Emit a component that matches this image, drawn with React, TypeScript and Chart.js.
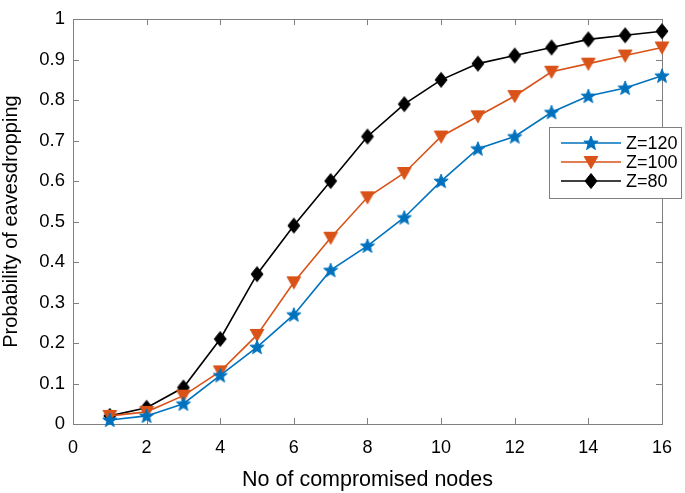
import React, { useEffect, useRef } from 'react';
import { Chart, registerables } from 'chart.js';

Chart.register(...registerables);

const nodes = [1, 2, 3, 4, 5, 6, 7, 8, 9, 10, 11, 12, 13, 14, 15, 16];
const z120 = [0.01, 0.02, 0.05, 0.12, 0.19, 0.27, 0.38, 0.44, 0.51, 0.6, 0.68, 0.71, 0.77, 0.81, 0.83, 0.86];
const z100 = [0.02, 0.03, 0.07, 0.13, 0.22, 0.35, 0.46, 0.56, 0.62, 0.71, 0.76, 0.81, 0.87, 0.89, 0.91, 0.93];
const z80 = [0.02, 0.04, 0.09, 0.21, 0.37, 0.49, 0.6, 0.71, 0.79, 0.85, 0.89, 0.91, 0.93, 0.95, 0.96, 0.97];
const seriesLabels = ['Z=120', 'Z=100', 'Z=80'];
const xTicks = [0, 2, 4, 6, 8, 10, 12, 14, 16];
const yTicks = [0, 0.1, 0.2, 0.3, 0.4, 0.5, 0.6, 0.7, 0.8, 0.9, 1];
const xTitle = 'No of compromised nodes';
const yTitle = 'Probability of eavesdropping';

const BLUE = '#0072BD';
const ORANGE = '#D95319';
const BLACK = '#000000';
const FRAME = '#808080';
const FONT = "'Liberation Sans', Arial, Helvetica, sans-serif";

function makeMarker(kind: 'star' | 'tri' | 'diamond', color: string): HTMLCanvasElement {
  const c = document.createElement('canvas');
  c.width = 18;
  c.height = 18;
  const g = c.getContext('2d')!;
  g.translate(9, 9);
  g.fillStyle = color;
  g.strokeStyle = color;
  g.lineWidth = 1;
  g.beginPath();
  if (kind === 'star') {
    const R = 7.5;
    const r = R * 0.42;
    for (let i = 0; i < 10; i++) {
      const rad = i % 2 === 0 ? R : r;
      const a = -Math.PI / 2 + (i * Math.PI) / 5;
      const px = rad * Math.cos(a);
      const py = rad * Math.sin(a) + 0.5;
      if (i === 0) g.moveTo(px, py);
      else g.lineTo(px, py);
    }
  } else if (kind === 'tri') {
    g.moveTo(-6.8, -5.5);
    g.lineTo(6.8, -5.5);
    g.lineTo(0, 6.5);
  } else {
    g.moveTo(0, -7.5);
    g.lineTo(6, 0);
    g.lineTo(0, 7.5);
    g.lineTo(-6, 0);
  }
  g.closePath();
  g.fill();
  g.stroke();
  return c;
}

export default function App() {
  const ref = useRef<HTMLCanvasElement | null>(null);

  useEffect(() => {
    if (!ref.current) return;
    const markers = [
      makeMarker('star', BLUE),
      makeMarker('tri', ORANGE),
      makeMarker('diamond', BLACK),
    ];
    const colors = [BLUE, ORANGE, BLACK];
    const series = [z120, z100, z80];

    const framePlugin = {
      id: 'frameTicks',
      beforeDatasetsDraw(chart: any) {
        const { ctx, chartArea: a, scales } = chart;
        ctx.save();
        ctx.strokeStyle = FRAME;
        ctx.lineWidth = 1;
        ctx.beginPath();
        const L = 6;
        for (const v of xTicks) {
          const x = Math.round(scales.x.getPixelForValue(v)) + 0.5;
          ctx.moveTo(x, a.bottom);
          ctx.lineTo(x, a.bottom - L);
          ctx.moveTo(x, a.top);
          ctx.lineTo(x, a.top + L);
        }
        for (const v of yTicks) {
          const y = Math.round(scales.y.getPixelForValue(v)) + 0.5;
          ctx.moveTo(a.left, y);
          ctx.lineTo(a.left + L, y);
          ctx.moveTo(a.right, y);
          ctx.lineTo(a.right - L, y);
        }
        ctx.stroke();
        ctx.strokeRect(Math.round(a.left) + 0.5, Math.round(a.top) + 0.5, Math.round(a.right - a.left), Math.round(a.bottom - a.top));
        ctx.restore();
      },
      afterDraw(chart: any) {
        const { ctx } = chart;
        ctx.save();
        const bx = 549.5, by = 127.5, bw = 132, bh = 71;
        ctx.fillStyle = '#ffffff';
        ctx.fillRect(bx, by, bw, bh);
        ctx.strokeStyle = FRAME;
        ctx.lineWidth = 1;
        ctx.strokeRect(bx, by, bw, bh);
        const rows = [143, 162, 181];
        ctx.font = `18px ${FONT}`;
        ctx.textBaseline = 'middle';
        ctx.textAlign = 'left';
        seriesLabels.forEach((lab, i) => {
          const y = rows[i];
          ctx.strokeStyle = colors[i];
          ctx.lineWidth = 1.6;
          ctx.beginPath();
          ctx.moveTo(561, y);
          ctx.lineTo(621, y);
          ctx.stroke();
          const m = markers[i];
          ctx.drawImage(m, 591 - m.width / 2, y - m.height / 2);
          ctx.fillStyle = '#000';
          ctx.fillText(lab, 626, y + 1);
        });
        ctx.restore();
      },
    };

    const chart = new Chart(ref.current, {
      type: 'line',
      data: {
        labels: nodes,
        datasets: series.map((s, i) => ({
          label: seriesLabels[i],
          data: nodes.map((n, j) => ({ x: n, y: s[j] })),
          borderColor: colors[i],
          backgroundColor: colors[i],
          borderWidth: 1.6,
          pointStyle: markers[i] as any,
          pointRadius: 7,
          pointHoverRadius: 7,
          tension: 0,
          fill: false,
          clip: false as any,
        })),
      },
      options: {
        responsive: false,
        animation: false,
        devicePixelRatio: 1,
        layout: { padding: { top: 8, right: 22, left: 0, bottom: 0 } },
        plugins: {
          legend: { display: false },
          tooltip: { enabled: false },
        },
        scales: {
          x: {
            type: 'linear',
            min: 0,
            max: 16,
            grid: { display: false, drawTicks: false },
            border: { display: false },
            afterBuildTicks: (s: any) => {
              s.ticks = xTicks.map((v) => ({ value: v }));
            },
            afterFit: (s: any) => {
              s.height = 69;
            },
            ticks: {
              padding: 13,
              color: '#000',
              font: { family: FONT, size: 18 },
              maxRotation: 0,
              autoSkip: false,
              callback: (v: any) => String(v),
            },
            title: {
              display: true,
              text: xTitle,
              color: '#000',
              font: { family: FONT, size: 21.5, lineHeight: 1 },
              padding: { top: 0, bottom: 2 },
            },
          },
          y: {
            type: 'linear',
            min: 0,
            max: 1,
            grid: { display: false, drawTicks: false },
            border: { display: false },
            afterBuildTicks: (s: any) => {
              s.ticks = yTicks.map((v) => ({ value: v }));
            },
            afterFit: (s: any) => {
              s.width = 73;
            },
            ticks: {
              padding: 8,
              color: '#000',
              font: { family: FONT, size: 18.5 },
              autoSkip: false,
              callback: (v: any) => {
                const n = Number(v);
                if (n === 0) return '0';
                if (n === 1) return '1';
                return n.toFixed(1);
              },
            },
            title: {
              display: true,
              text: yTitle,
              color: '#000',
              font: { family: FONT, size: 20, lineHeight: 1 },
              padding: { top: 1, bottom: 0 },
            },
          },
        },
      },
      plugins: [framePlugin],
    });
    return () => chart.destroy();
  }, []);

  return (
    <div style={{ position: 'absolute', left: 0, top: 0, width: 685, height: 493, background: '#fff' }}>
      <canvas ref={ref} width={685} height={493} style={{ display: 'block' }} />
    </div>
  );
}
